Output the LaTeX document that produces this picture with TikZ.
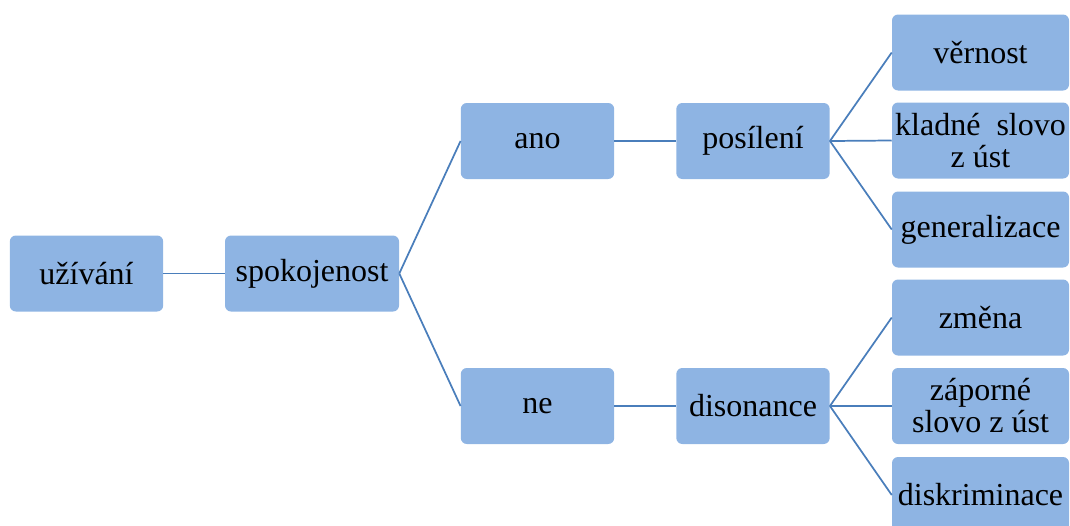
\documentclass[tikz,border=0pt]{standalone}
\usepackage{fontspec}
\setmainfont{Liberation Serif}
\definecolor{boxfill}{RGB}{142,180,227}
\definecolor{linkcol}{RGB}{74,126,187}
\begin{document}
\begin{tikzpicture}[x=0.75pt,y=-0.75pt,
  box/.style={fill=boxfill,draw=none,rounded corners=4.5pt,minimum height=57pt,inner sep=0pt,align=center,font=\fontsize{24}{24}\selectfont},
  narrow/.style={box,minimum width=115pt},
  wide/.style={box,minimum width=132.75pt},
  link/.style={draw=linkcol,line width=1.3pt}]
\useasboundingbox (0,0) rectangle (1070,525);
\clip (0,0) rectangle (1070,525);
\node[narrow] (uz) at (86.5,273.5) {užívání};
\node[box,minimum width=130.5pt] (spok) at (312,273.5) {spokojenost};
\node[narrow] (ano) at (537.5,141) {ano};
\node[narrow] (ne) at (537.5,406) {ne};
\node[narrow] (pos) at (753,141) {posílení};
\node[narrow] (dis) at (753,406) {disonance};
\node[wide] (ver) at (980.5,52.5) {věrnost};
\node[wide] (kla) at (980.5,140.5) {kladné\enspace slovo\\z úst};
\node[wide] (gen) at (980.5,229.5) {generalizace};
\node[wide] (zme) at (980.5,317.5) {změna};
\node[wide] (zap) at (980.5,406) {záporné\\slovo z úst};
\node[wide] (dsk) at (980.5,495) {diskriminace};
\draw[link] (uz.east) -- (spok.west);
\draw[link] (spok.east) -- (ano.west);
\draw[link] (spok.east) -- (ne.west);
\draw[link] (ano.east) -- (pos.west);
\draw[link] (ne.east) -- (dis.west);
\foreach \t in {ver,kla,gen} \draw[link] (pos.east) -- (\t.west);
\foreach \t in {zme,zap,dsk} \draw[link] (dis.east) -- (\t.west);
\end{tikzpicture}
\end{document}
